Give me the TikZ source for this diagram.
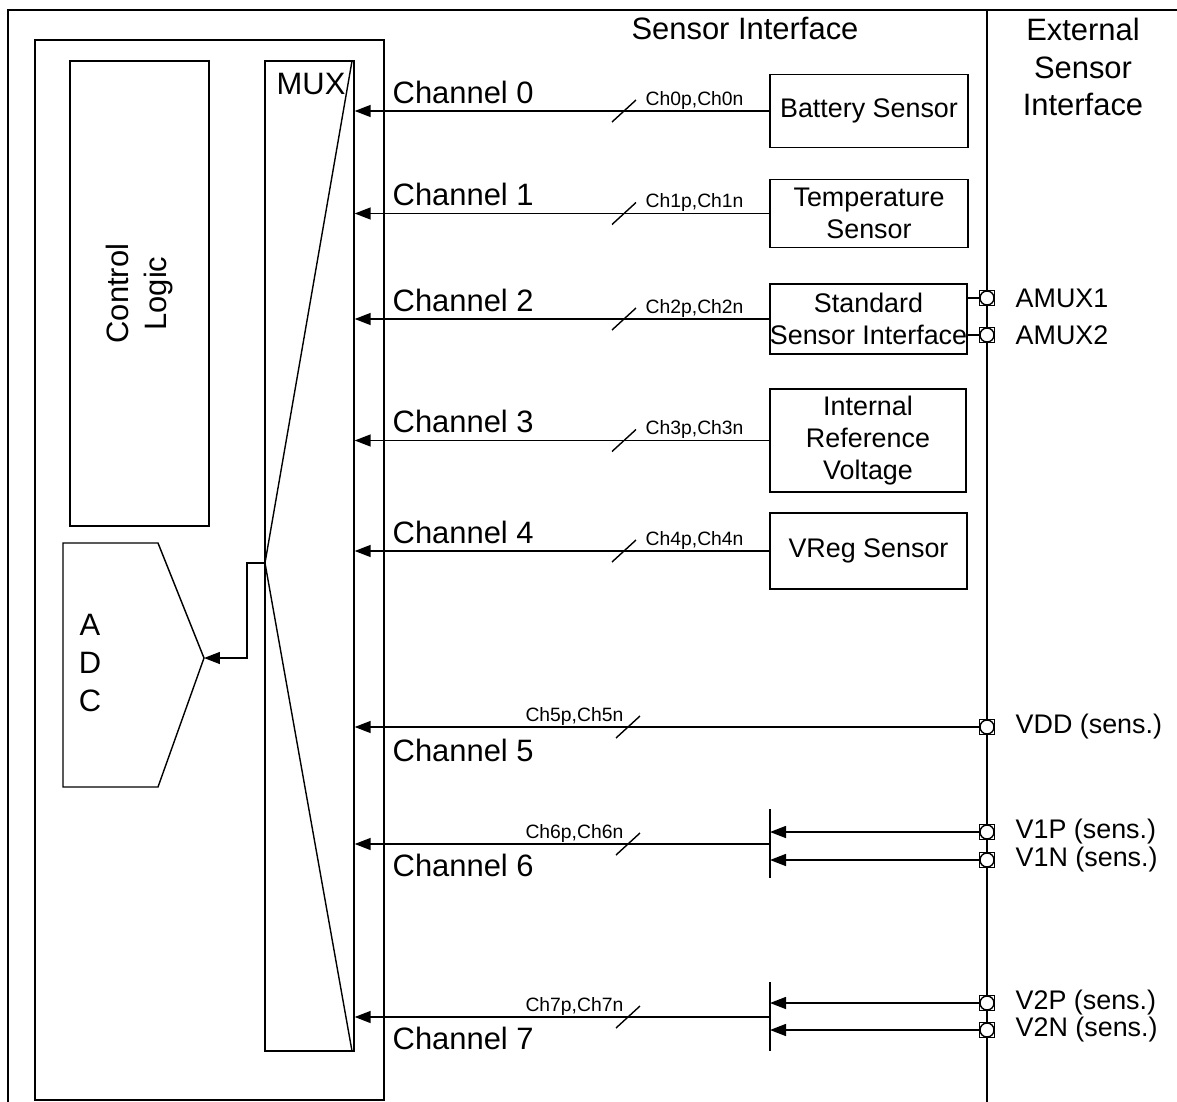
\documentclass[tikz,border=0pt]{standalone}
\usepackage{fontspec}
\setmainfont{Liberation Sans}
\usetikzlibrary{positioning,arrows.meta,calc}

\newcommand{\bigtxt}{\fontsize{17.6}{21.5}\selectfont}
\newcommand{\boxtxt}{\fontsize{15.3}{18}\selectfont}
\newcommand{\bustxt}{\fontsize{11}{13}\selectfont}

\begin{document}
\begin{tikzpicture}[x=0.02cm, y=-0.02cm, >={Triangle[length=0.32cm,width=0.24cm]}, line width=0.8pt,
  every node/.style={inner sep=0pt},
  sensbox/.style={draw, align=center, font=\boxtxt, minimum width=3.94cm},
  extpin/.style={draw, fill=white, minimum width=0.3cm, minimum height=0.3cm,
    path picture={\draw (path picture bounding box.center) circle (0.14cm);}},
  pinname/.style={font=\boxtxt, anchor=west},
  sig/.style={->},
  chname/.style={font=\bigtxt, anchor=base west},
  bus/.style={font=\bustxt}]
\useasboundingbox (0,0) rectangle (1177,1102);
% frame and headings
\draw (8,1102) -- (8,10) -- (1177,10);
\draw (987,10) -- (987,1102);
\node[font=\bigtxt] (sihead) at (745,28) {Sensor Interface};
\node[font=\bigtxt, align=center] (esihead) at (1083,67) {External\\Sensor\\Interface};
% chip: control logic, mux, adc
\draw (35,40) rectangle (384,1100);
\node[draw, minimum width=2.78cm, minimum height=9.3cm] (ctrl) at (139.5,293.5) {};
\node[rotate=90, align=center, font=\bigtxt] at (ctrl) {Control\\Logic};
\node[draw, minimum width=1.78cm, minimum height=19.8cm] (mux) at (309.5,556) {};
\draw (352,61) -- (265,563) coordinate (muxout) -- (352,1051);
\node[font=\bigtxt, anchor=base west] at (276,94) {MUX};
\draw (63,543) -- (158,543) -- (204,658) coordinate (adcin) -- (158,787) -- (63,787) -- cycle;
\node[font=\bigtxt, align=center] (adc) at (90,663) {A\\D\\C};
\draw[sig] (muxout) -- ++(-18,0) |- (adcin);
% internal sensors
\node[sensbox, minimum width=3.96cm, minimum height=1.46cm] (bat) at (869,111) {Battery Sensor};
\node[sensbox, minimum width=3.96cm, minimum height=1.36cm] (temp) at (869,213.5) {Temperature\\Sensor};
\node[sensbox, minimum height=1.40cm] (std) at (868.5,319) {Standard\\Sensor Interface};
\node[sensbox, minimum width=3.92cm, minimum height=2.06cm] (iref) at (868,440.5) {Internal\\Reference\\Voltage};
\node[sensbox, minimum height=1.52cm] (vreg) at (868.5,551) {VReg Sensor};
\foreach \b/\n in {bat/0,temp/1,std/2,iref/3,vreg/4}{
  \draw[sig] (\b.west) -- (\b.west -| mux.east);
  \draw (\b.west -| 624,0) ++(-12,11) -- ++(24,-22);
  \node[bus, anchor=base west] at ($(\b.west -| 645,0)+(0,-6)$) {Ch\n p,Ch\n n};
  \node[chname] at ($(\b.west -| 392,0)+(0,-8)$) {Channel \n};
}
% external pins
\foreach \p/\y/\t in {amux1/298/AMUX1, amux2/335/AMUX2, vdd/727/VDD (sens.), v1p/832/V1P (sens.),
    v1n/860/V1N (sens.), v2p/1003/V2P (sens.), v2n/1030/V2N (sens.)}{
  \node[extpin] (\p) at (987,\y) {};
  \node[pinname] at ($(\p)+(28,0)$) {\t};
}
\draw (std.east |- amux1) -- (amux1);
\draw (std.east |- amux2) -- (amux2);
\draw[sig] (vdd) -- (vdd -| mux.east);
\draw (vdd -| 628,0) ++(-12,11) -- ++(24,-22);
\node[bus, anchor=base east] at ($(vdd -| 624,0)+(0,-6)$) {Ch5p,Ch5n};
\node[chname] at ($(vdd -| 392,0)+(0,34)$) {Channel 5};
\foreach \n/\p/\q/\y in {6/v1p/v1n/844, 7/v2p/v2n/1017}{
  \coordinate (bar\n) at (770,\y);
  \draw ($(bar\n)+(0,-35)$) -- ($(bar\n)+(0,34)$);
  \draw[sig] (bar\n) -- (bar\n -| mux.east);
  \draw[sig] (\p) -- (\p -| bar\n);
  \draw[sig] (\q) -- (\q -| bar\n);
  \draw (bar\n -| 628,0) ++(-12,11) -- ++(24,-22);
  \node[bus, anchor=base east] at ($(bar\n -| 624,0)+(0,-6)$) {Ch\n p,Ch\n n};
  \node[chname] at ($(bar\n -| 392,0)+(0,32)$) {Channel \n};
}
\end{tikzpicture}
\end{document}
